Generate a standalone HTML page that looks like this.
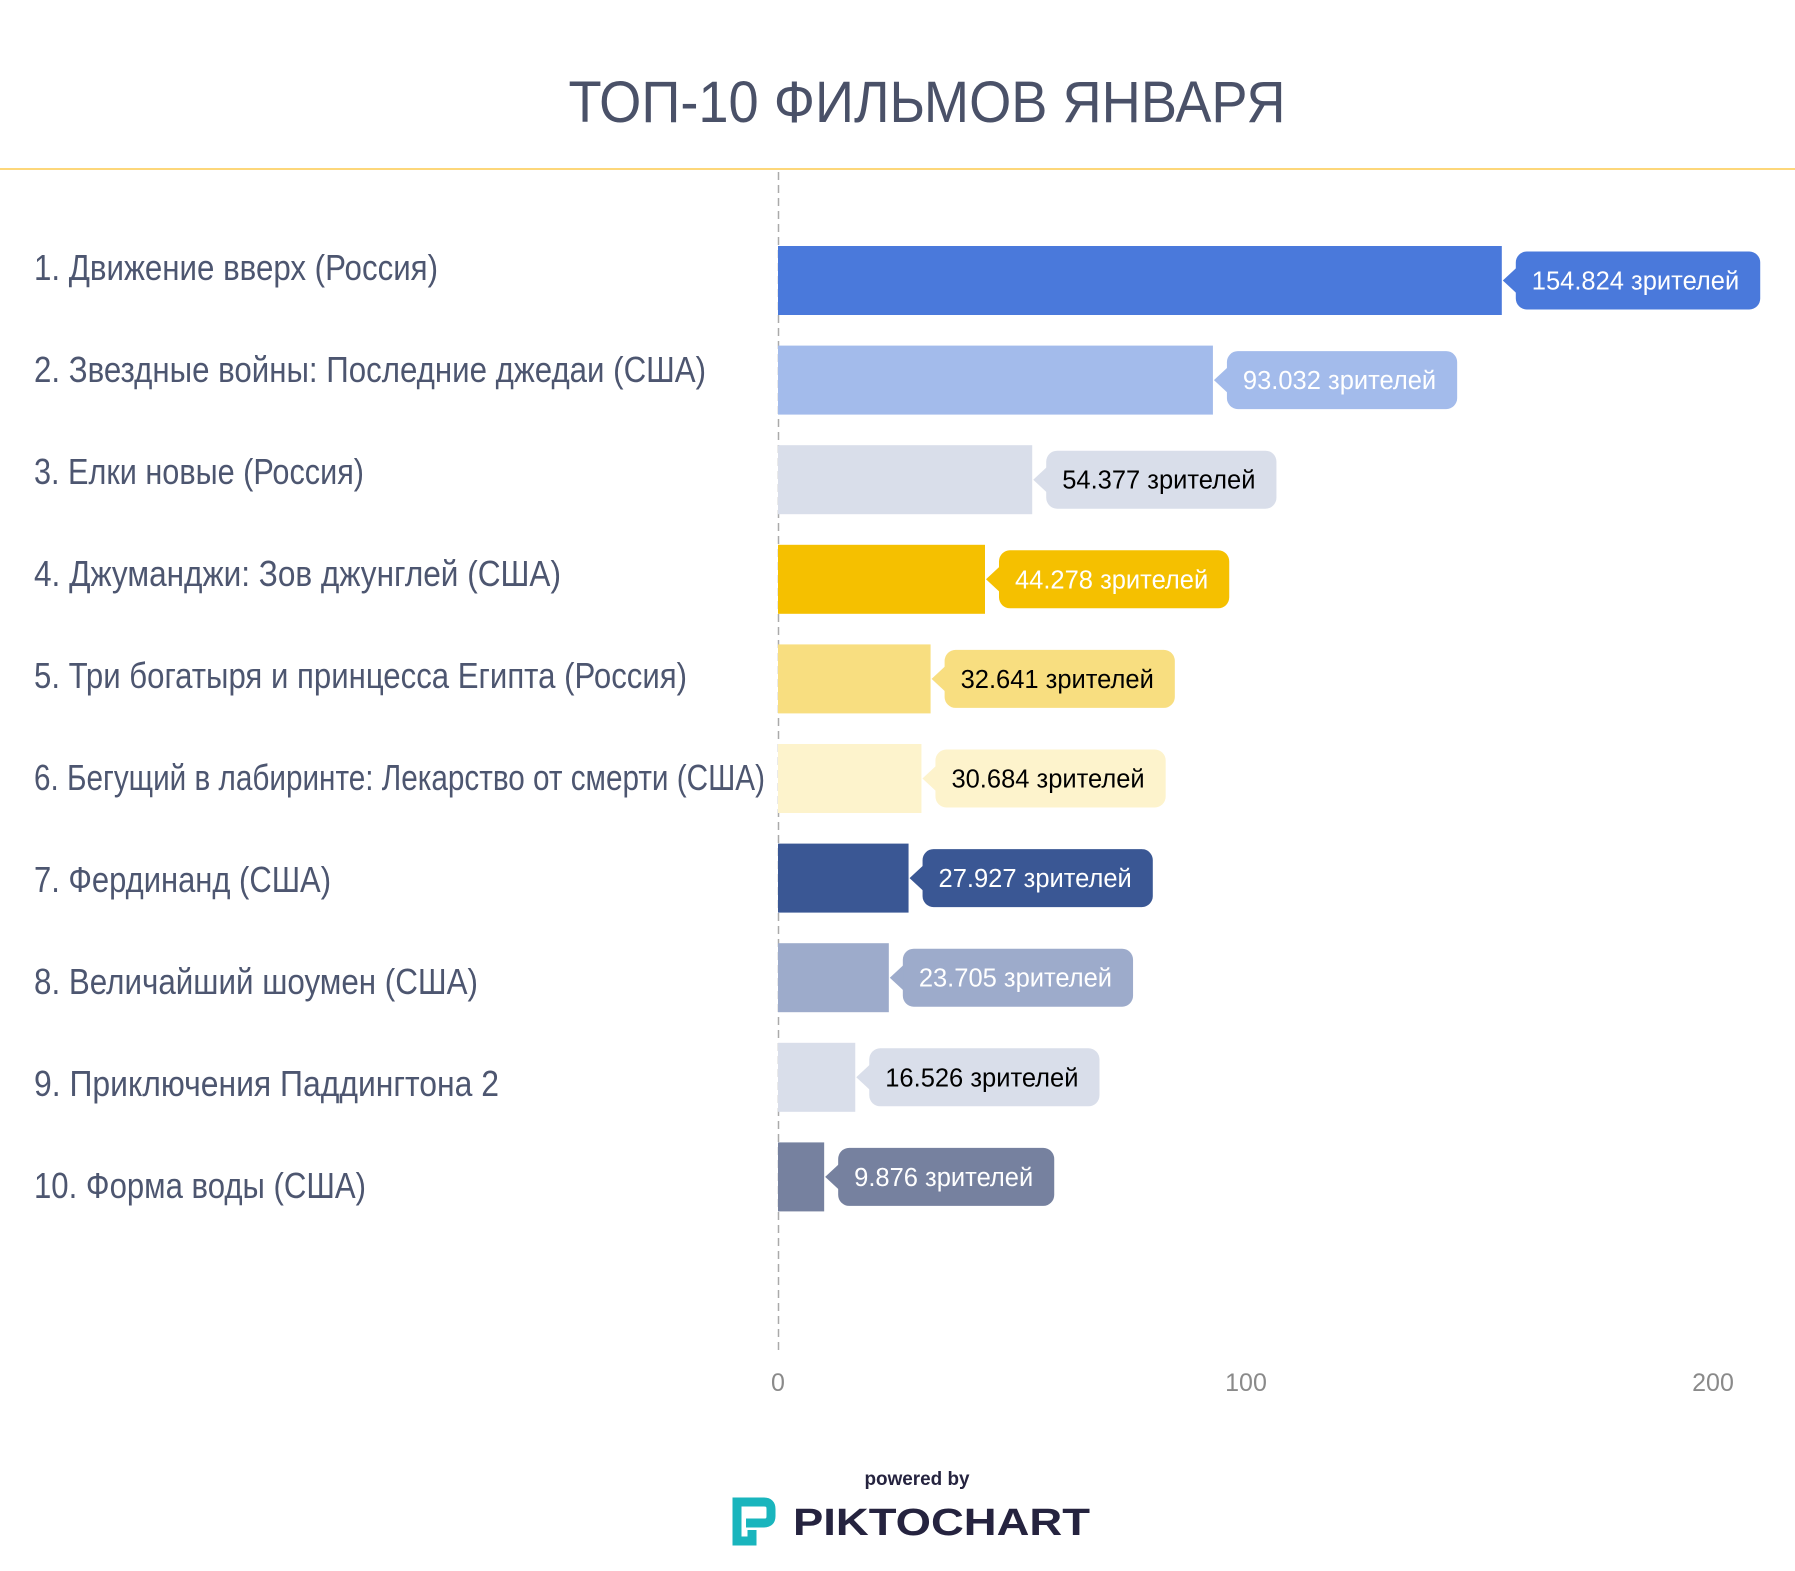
<!DOCTYPE html>
<html><head><meta charset="utf-8"><style>
html,body{margin:0;padding:0;background:#fff;}
svg{display:block;}
</style></head><body>
<svg id="s" width="1795" height="1571" xmlns="http://www.w3.org/2000/svg">
<rect width="1795" height="1571" fill="#fff"/>
<text x="927" y="122" text-anchor="middle" font-family="Liberation Sans, sans-serif" font-size="58" fill="#4a5168" textLength="717" lengthAdjust="spacingAndGlyphs">ТОП-10 ФИЛЬМОВ ЯНВАРЯ</text>
<rect x="0" y="168" width="1795" height="2" fill="#fdd77a"/>
<line x1="778.5" y1="172" x2="778.5" y2="1355" stroke="#aaa" stroke-width="1.5" stroke-dasharray="8 5"/>
<g font-family="Liberation Sans, sans-serif" font-size="25" fill="#8a8a8a" text-anchor="middle">
<text x="778" y="1391">0</text><text x="1246" y="1391">100</text><text x="1713" y="1391">200</text>
</g>
<g id="rows"></g>
<text x="917" y="1485" text-anchor="middle" font-family="Liberation Sans, sans-serif" font-weight="bold" font-size="19" fill="#25233f" textLength="105" lengthAdjust="spacingAndGlyphs">powered by</text>
<g fill="none" stroke="#19b5bd" stroke-width="9">
<path d="M737 1540 V1502 H764 Q771 1502 771 1509 V1516 Q771 1523 764 1523 H746"/>
<path d="M737 1523 V1541 H752 V1530"/>
</g>
<text x="793" y="1535" font-family="Liberation Sans, sans-serif" font-weight="bold" font-size="38" fill="#25233f" textLength="297" lengthAdjust="spacingAndGlyphs">PIKTOCHART</text>
</svg>
<script>
var d=[
["1. Движение вверх (Россия)",404,154.824,"154.824","#4a79db","#fff"],
["2. Звездные войны: Последние джедаи (США)",672,93.032,"93.032","#a3bbeb","#fff"],
["3. Елки новые (Россия)",330,54.377,"54.377","#d9deea","#000"],
["4. Джуманджи: Зов джунглей (США)",527,44.278,"44.278","#f5c000","#fff"],
["5. Три богатыря и принцесса Египта (Россия)",653,32.641,"32.641","#f8de80","#000"],
["6. Бегущий в лабиринте: Лекарство от смерти (США)",731,30.684,"30.684","#fdf3cc","#000"],
["7. Фердинанд (США)",297,27.927,"27.927","#3a5794","#fff"],
["8. Величайший шоумен (США)",444,23.705,"23.705","#9dabcb","#fff"],
["9. Приключения Паддингтона 2",465,16.526,"16.526","#d9deea","#000"],
["10. Форма воды (США)",332,9.876,"9.876","#76819f","#fff"]];
var g=document.getElementById('rows'),NS="http://www.w3.org/2000/svg";
function el(t,a,txt){var e=document.createElementNS(NS,t);for(var k in a)e.setAttribute(k,a[k]);if(txt)e.textContent=txt;g.appendChild(e);return e;}
d.forEach(function(r,i){
 var top=246+i*99.6,h=69,cy=top+h/2,end=778+r[2]*4.675;
 el('text',{x:34,y:280+i*102,'font-family':'Liberation Sans, sans-serif','font-size':36,fill:'#4d5670',textLength:r[1],lengthAdjust:'spacingAndGlyphs'},r[0]);
 el('rect',{x:778,y:top,width:end-778,height:h,fill:r[4]});
 var t=el('text',{x:end+30,y:cy+9,'font-family':'Liberation Sans, sans-serif','font-size':25.5,fill:r[5]},r[3]+" зрителей");
 var w=t.getComputedTextLength();
 var px=end+14,pw=w+37;
 el('rect',{x:px,y:cy-29,width:pw,height:58,rx:11,fill:r[4]});
 el('polygon',{points:(end+1)+","+cy+" "+(px+1)+","+(cy-13)+" "+(px+1)+","+(cy+13),fill:r[4]});
 g.appendChild(t);
});
</script>
</body></html>
